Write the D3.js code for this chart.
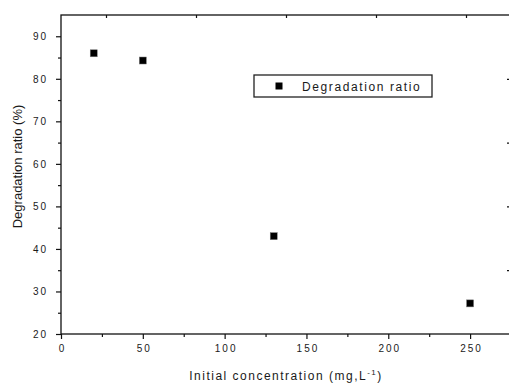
<!DOCTYPE html>
<html>
<head>
<meta charset="utf-8">
<script src="https://cdn.jsdelivr.net/npm/d3@7"></script>
<style>
  body { margin: 0; background: #fff; }
  text { font-family: "Liberation Sans", Arial, sans-serif; fill: #1a1a1a; }
</style>
</head>
<body>
<div id="chart"></div>
<script>
// Degradation ratio vs initial concentration
const concentration = [20, 50, 130, 250];
const degradation = [86, 84.3, 43, 27.2];
const xTicks = [0, 50, 100, 150, 200, 250];
const xMinor = [25, 75, 125, 175, 225];
const yTicks = [20, 30, 40, 50, 60, 70, 80, 90];
const yMinor = [25, 35, 45, 55, 65, 75, 85];
const topTicks = [27.5, 82.5, 137.5, 192.5, 247.5];
const rightTicks = [80, 65, 50, 35];
const rightMinor = [87.5, 72.5, 57.5, 42.5, 27.5];
const seriesName = "Degradation ratio";

const width = 509, height = 383;
const margin = {top: 15, right: -2, bottom: 49, left: 61};

const svg = d3.select("#chart").append("svg")
  .attr("width", width)
  .attr("height", height);

const x = d3.scaleLinear()
  .domain([0, 275])
  .range([margin.left, width - margin.right]);

const y = d3.scaleLinear()
  .domain([20, 95])
  .range([height - margin.bottom, margin.top]);

const x0 = x.range()[0], x1 = x.range()[1];
const y0 = y.range()[0], y1 = y.range()[1];

function styleAxis(g) {
  g.select(".domain").remove();
  g.selectAll("line").attr("stroke", "#111").attr("stroke-width", 1.2);
}

// bottom axis (major + minor)
svg.append("g")
  .attr("transform", `translate(0,${y0})`)
  .call(d3.axisBottom(x).tickValues(xTicks).tickSize(5).tickPadding(6).tickFormat(d3.format("d")))
  .call(styleAxis)
  .call(g => g.selectAll("text")
    .attr("font-size", 10).attr("letter-spacing", "2px").attr("dx", 1)
    .style("font-family", "'Liberation Sans', Arial, sans-serif").attr("fill", "#1a1a1a"));

svg.append("g")
  .attr("transform", `translate(0,${y0})`)
  .call(d3.axisBottom(x).tickValues(xMinor).tickSize(3).tickFormat(""))
  .call(styleAxis);

// left axis
svg.append("g")
  .attr("transform", `translate(${x0},0)`)
  .call(d3.axisLeft(y).tickValues(yTicks).tickSize(5).tickPadding(8).tickFormat(d3.format("d")))
  .call(styleAxis)
  .call(g => g.selectAll("text")
    .attr("font-size", 10).attr("letter-spacing", "2px")
    .style("font-family", "'Liberation Sans', Arial, sans-serif").attr("fill", "#1a1a1a"));

svg.append("g")
  .attr("transform", `translate(${x0},0)`)
  .call(d3.axisLeft(y).tickValues(yMinor).tickSize(3).tickFormat(""))
  .call(styleAxis);

// top axis (ticks inward)
svg.append("g")
  .attr("transform", `translate(0,${y1})`)
  .call(d3.axisBottom(x).tickValues(topTicks).tickSize(3).tickFormat(""))
  .call(styleAxis);

// right axis (ticks inward)
svg.append("g")
  .attr("transform", `translate(${x1},0)`)
  .call(d3.axisLeft(y).tickValues(rightTicks).tickSize(4).tickFormat(""))
  .call(styleAxis);

svg.append("g")
  .attr("transform", `translate(${x1},0)`)
  .call(d3.axisLeft(y).tickValues(rightMinor).tickSize(2).tickFormat(""))
  .call(styleAxis)
  .call(g => g.selectAll("line").attr("stroke", "#999"));

// frame
svg.append("rect")
  .attr("x", x0).attr("y", y1)
  .attr("width", x1 - x0).attr("height", y0 - y1)
  .attr("fill", "none").attr("stroke", "#111").attr("stroke-width", 1.3);

// points
const data = concentration.map((c, i) => ({c, v: degradation[i]}));
const sz = 7;
svg.append("g")
  .selectAll("rect")
  .data(data)
  .join("rect")
  .attr("x", d => x(d.c) - sz / 2)
  .attr("y", d => y(d.v) - sz / 2)
  .attr("width", sz)
  .attr("height", sz)
  .attr("fill", "#000")
  .attr("stroke", "#777")
  .attr("stroke-width", 0.5);

// legend
const lg = svg.append("g").attr("transform", "translate(254,75)");
lg.append("rect")
  .attr("width", 178).attr("height", 22)
  .attr("fill", "#fff").attr("stroke", "#222").attr("stroke-width", 1.3);
lg.append("rect")
  .attr("x", 25 - sz / 2).attr("y", 11 - sz / 2)
  .attr("width", sz).attr("height", sz).attr("fill", "#000");
lg.append("text")
  .attr("x", 48).attr("y", 15.5)
  .attr("font-size", 12).attr("letter-spacing", "1.6px")
  .text(seriesName);

// axis titles
svg.append("text")
  .attr("transform", `translate(22,${(y0 + y1) / 2 - 8}) rotate(-90)`)
  .attr("text-anchor", "middle")
  .attr("font-size", 13)
  .text("Degradation ratio (%)");

const xt = svg.append("text")
  .attr("x", 286).attr("y", 380)
  .attr("text-anchor", "middle")
  .attr("font-size", 12)
  .attr("letter-spacing", "1.5px");
xt.append("tspan").text("Initial concentration (mg,L");
xt.append("tspan").attr("font-size", 8).attr("dy", -5).text("-1");
xt.append("tspan").attr("dy", 5).text(")");
</script>
</body>
</html>
